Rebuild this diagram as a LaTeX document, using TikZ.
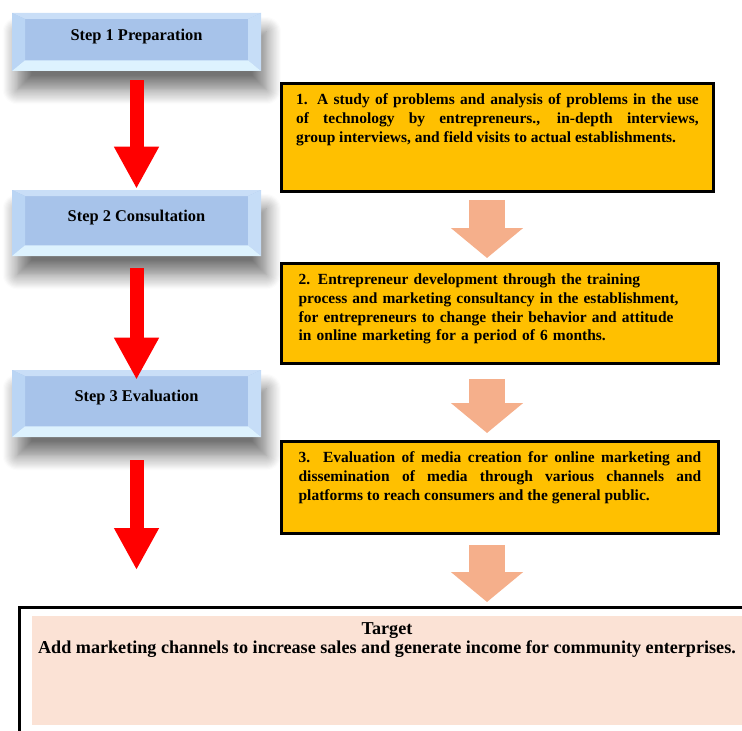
\documentclass[tikz,border=0pt]{standalone}
\usepackage{fontspec}
\setmainfont{Liberation Serif}
\usetikzlibrary{arrows.meta,calc,shadows.blur}

\definecolor{stepmid}{HTML}{A7C3EA}
\definecolor{steptop}{HTML}{C9DEF7}
\definecolor{stepleft}{HTML}{BAD5F4}
\definecolor{stepright}{HTML}{C6DDF7}
\definecolor{stepbot}{HTML}{DDF2FE}
\definecolor{boxyellow}{HTML}{FFC000}
\definecolor{peach}{HTML}{F5AF8B}
\definecolor{targetpink}{HTML}{FBE2D5}

\tikzset{
  stepbox/.style={minimum width=186.75pt, fill=stepmid, text height=9pt, text depth=11.5pt,
    font=\fontsize{12.3}{14}\selectfont\bfseries,
    blur shadow={shadow xshift=4pt, shadow yshift=-14pt, shadow blur radius=11pt,
      shadow blur steps=14, shadow opacity=55},
    path picture={
      \coordinate (NW) at (path picture bounding box.north west);
      \coordinate (NE) at (path picture bounding box.north east);
      \coordinate (SW) at (path picture bounding box.south west);
      \coordinate (SE) at (path picture bounding box.south east);
      \fill[steptop] (NW) -- (NE) -- ++(-9.75pt,-4.5pt) -- ($(NW)+(9.75pt,-4.5pt)$) -- cycle;
      \fill[stepleft] (NW) -- ++(9.75pt,-4.5pt) -- ($(SW)+(9.75pt,8pt)$) -- (SW) -- cycle;
      \fill[stepright] (NE) -- ++(-9.75pt,-4.5pt) -- ($(SE)+(-9.75pt,8pt)$) -- (SE) -- cycle;
      \fill[stepbot] (SW) -- ++(9.75pt,8pt) -- ($(SE)+(-9.75pt,8pt)$) -- (SE) -- cycle;
    }},
  taskbox/.style={draw=black, line width=2.2pt, fill=boxyellow, anchor=north west,
    text width=302pt, inner xsep=11pt, inner ysep=7pt, text height=9pt,
    font=\fontsize{11.6}{14}\selectfont\bfseries},
  redarrow/.style={draw=red, line width=10.5pt, -{Triangle[width=31.5pt,length=31.5pt]}},
  peacharrow/.style={draw=peach, line width=27pt, -{Triangle[width=53pt,length=22.5pt]}},
}

\begin{document}
\begin{tikzpicture}[x=0.75pt,y=-0.75pt]
  \useasboundingbox (0,0) rectangle (742,731);

  % steps on the left
  \node[stepbox, minimum height=43.5pt] (s1) at (136.5,42) {Step 1 Preparation};
  \node[stepbox, minimum height=49.5pt] (s2) at (136.5,223) {Step 2 Consultation};
  \node[stepbox, minimum height=50.25pt] (s3) at (136.5,403.5) {Step 3 Evaluation};

  % activities on the right
  \node[taskbox, text depth=58pt, align=justify] (y1) at (280,82)
    {1. A study of problems and analysis of problems in the use\linebreak
     of technology by entrepreneurs., in-depth interviews,\linebreak
     group interviews, and field visits to actual establishments.};
  \node[taskbox, text depth=52pt, minimum width=327.75pt, align=left] (y2) at (280,262)
    {2. Entrepreneur development through the training\\
     process and marketing consultancy in the establishment,\\
     for entrepreneurs to change their behavior and attitude\\
     in online marketing for a period of 6 months.};
  \node[taskbox, text depth=46pt, minimum width=327.75pt, align=justify] (y3) at (280,440)
    {3. Evaluation of media creation for online marketing and\linebreak
     dissemination of media through various channels and\linebreak
     platforms to reach consumers and the general public.};

  % target
  \node[draw=black, line width=2.2pt, anchor=north west, minimum width=570pt,
    minimum height=120pt] (tframe) at (18,606) {};
  \fill[targetpink] (32,616) rectangle (780,725);
  \node[font=\fontsize{13.6}{14.25}\selectfont\bfseries, align=center] (target) at (387,640.5)
    {Target\\Add marketing channels to increase sales and generate income for community enterprises.};

  % red arrows between the steps
  \coordinate (end3) at (136.5,570);
  \draw[redarrow] ($(s1.south)+(0,9)$) -- ($(s2.north)+(0,-1)$);
  \draw[redarrow] ($(s2.south)+(0,12)$) -- ($(s3.north)+(0,10)$);
  \draw[redarrow] ($(s3.south)+(0,23)$) -- (end3);

  % peach arrows between the activities
  \coordinate (pcol) at (487,0);
  \draw[peacharrow] ($(y1.south -| pcol)+(0,7)$) -- ($(y2.north -| pcol)+(0,-4)$);
  \draw[peacharrow] ($(y2.south -| pcol)+(0,14)$) -- ($(y3.north -| pcol)+(0,-7)$);
  \draw[peacharrow] ($(y3.south -| pcol)+(0,10)$) -- ($(tframe.north -| pcol)+(0,-4)$);

\end{tikzpicture}
\end{document}
